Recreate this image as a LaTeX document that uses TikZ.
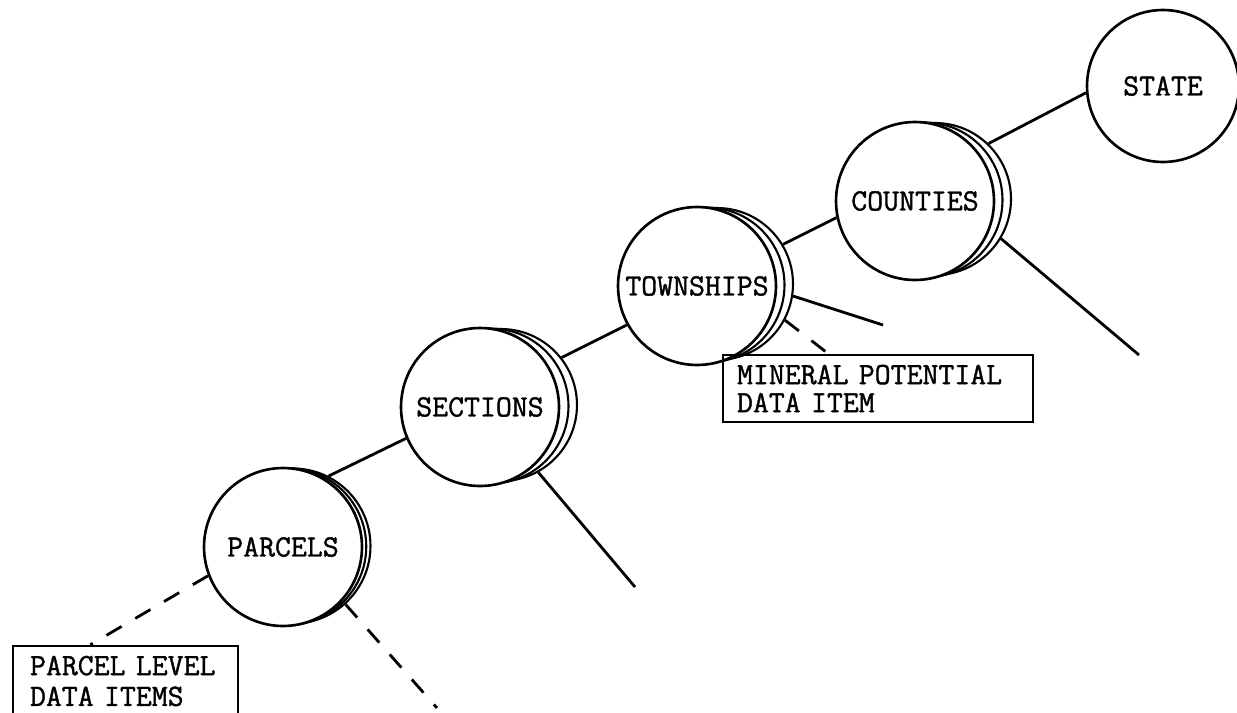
\documentclass[tikz,border=0pt]{standalone}
\usepackage{fontspec}
\setmonofont{Latin Modern Mono}[BoldFont={Latin Modern Mono},BoldFeatures={FakeBold=1.2}]
\usepackage{tikz}
\usetikzlibrary{positioning}

\begin{document}
\begin{tikzpicture}[%
x={(0.02cm,0cm)},
y={(0cm,-0.02cm)},
kreis/.style={circle,draw=black,fill=white,line width=1.5pt,minimum size=3.16cm,inner sep=0pt,font=\ttfamily\bfseries\fontsize{17.6}{20}\selectfont},
hinten/.style={circle,draw=black,fill=white,line width=1.2pt,inner sep=0pt},
kante/.style={line width=1.6pt},
strich/.style={line width=1.6pt,dash pattern=on 10pt off 9pt},
kasten/.style={rectangle,draw=black,line width=1.5pt,align=left,inner ysep=0pt},
]

\useasboundingbox (0,0) rectangle (1237,713);

%Mittelpunkte
\coordinate (P) at (283,547);
\coordinate (S) at (480,407);
\coordinate (T) at (697,286);
\coordinate (C) at (915,201);
\coordinate (St) at (1163,86);

%Kreise
\node[hinten,minimum size=3.10cm] (Pa2) at ([xshift=0.2cm,yshift=0.02cm]P) {};
\node[hinten,minimum size=3.13cm] (Pa1) at ([xshift=0.1cm,yshift=0.01cm]P) {};
\node[kreis] (Pa) at (P) {PARCELS};

\node[hinten,minimum size=3.04cm] (Se2) at ([xshift=0.42cm,yshift=0.04cm]S) {};
\node[hinten,minimum size=3.10cm] (Se1) at ([xshift=0.22cm,yshift=0.02cm]S) {};
\node[kreis] (Se) at (S) {SECTIONS};

\node[hinten,minimum size=3.04cm] (To2) at ([xshift=0.4cm,yshift=0.04cm]T) {};
\node[hinten,minimum size=3.10cm] (To1) at ([xshift=0.2cm,yshift=0.02cm]T) {};
\node[kreis] (To) at (T) {TOWNSHIPS};

\node[hinten,minimum size=3.04cm] (Co2) at ([xshift=0.4cm,yshift=0.04cm]C) {};
\node[hinten,minimum size=3.10cm] (Co1) at ([xshift=0.2cm,yshift=0.02cm]C) {};
\node[kreis] (Co) at (C) {COUNTIES};

\node[kreis,minimum size=3.04cm] (Sta) at (St) {STATE};

%Kaesten
\node[kasten,text width=5.64cm,inner xsep=0.28cm,minimum height=1.34cm,font=\ttfamily\bfseries\fontsize{17.6}{16}\selectfont] (Mk) at (878,388.5) {MINERAL POTENTIAL\\DATA ITEM};
\node[kasten,text width=3.82cm,inner xsep=0.34cm,minimum height=1.4cm,font=\ttfamily\bfseries\fontsize{17.6}{17.5}\selectfont] (Pk) at (125.5,681) {PARCEL LEVEL\\DATA ITEMS};

%Enden
\coordinate (cE) at (1139,355);
\coordinate (tE) at (883,325);
\coordinate (sE) at (635,587);
\coordinate (pE) at (437,708);

%Kanten
\draw[kante] (Pa2.63) -- (Se.203);
\draw[kante] (Se2.38) -- (To.209);
\draw[kante] (To2.31) -- (Co.192);
\draw[kante] (Co2.46) -- (Sta.185);

\draw[kante] (Co2.-31) -- (cE);
\draw[kante] (To2.-9) -- (tE);
\draw[kante] (Se2.-61) -- (sE);

\draw[strich] (To2.-28) -- (Mk.145);
\draw[strich] (Pa.201) -- (Pk.134);
\draw[strich] (Pa2.-48) -- (pE);

\end{tikzpicture}
\end{document}
